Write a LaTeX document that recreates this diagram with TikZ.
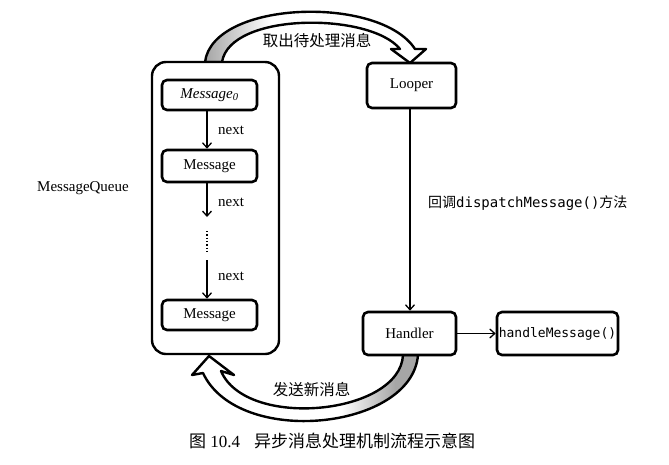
\documentclass[tikz,border=0pt]{standalone}
\usepackage{fontspec}
\setmainfont{Liberation Serif}
\newfontfamily\cjk{Noto Sans CJK SC}
\newfontfamily\mono{DejaVu Sans Mono}
\usetikzlibrary{arrows.meta}
\pgfdeclarehorizontalshading{topfade}{100bp}{color(0bp)=(gray!70); color(25bp)=(gray!70); color(40bp)=(white); color(100bp)=(white)}
\pgfdeclarehorizontalshading{botfade}{100bp}{color(0bp)=(white); color(58bp)=(white); color(70bp)=(gray!70); color(100bp)=(gray!70)}
\tikzset{
  msgbox/.style={draw, line width=2.6pt, rounded corners=5pt, fill=white, inner sep=0pt, font=\fontsize{15}{17}\selectfont},
  queuebox/.style={draw, line width=2.4pt, rounded corners=14pt, fill=white},
  arr/.style={line width=1.3pt, -{Straight Barb[length=5pt,width=9pt,line width=1.3pt]}},
  band/.style={draw, line width=2.4pt, line join=round},
  lbl/.style={font=\fontsize{15}{17}\selectfont, inner sep=0pt},
  clbl/.style={font=\cjk\fontsize{15.5}{17}\selectfont, inner sep=0pt}
}
\begin{document}
\begin{tikzpicture}[x=1pt,y=-1pt]
\useasboundingbox (0,0) rectangle (669,464);
\fill[white] (0,0) rectangle (669,464);

% hollow arrows
\shadedraw[band, shading=topfade]
  (205,62) .. controls (213,0) and (380,-5) .. (415,49)
  -- (426,49) -- (410,63) -- (391,49) -- (400,49)
  .. controls (370,12) and (230,12) .. (222,62) -- cycle;
\shadedraw[band, shading=botfade]
  (418,355) .. controls (412,430) and (238,448) .. (203,373)
  -- (192,375) -- (209,356) -- (234,375) -- (221,371)
  .. controls (246,430) and (400,415) .. (403,355) -- cycle;

% message queue
\node[queuebox, minimum width=127pt, minimum height=292pt] (mq) at (215.5,208) {};
\node[lbl, anchor=center] (mqlbl) at (83,188) {MessageQueue};

\node[msgbox, minimum width=95pt, minimum height=30pt] (m0) at (209.5,95) {\textit{Message}\textsubscript{\textit{0}}};
\node[msgbox, minimum width=95pt, minimum height=32pt] (m1) at (209.5,166) {Message};
\node[msgbox, minimum width=95pt, minimum height=30pt] (m2) at (209.5,315) {Message};

\coordinate (a2end) at (207,217);
\coordinate (dtop) at (207,231);
\coordinate (dbot) at (207,253);
\coordinate (a3start) at (207,260);

\draw[arr] ([xshift=-2.5pt]m0.south) -- ([xshift=-2.5pt]m1.north);
\draw[arr] ([xshift=-2.5pt]m1.south) -- (a2end);
\draw[line width=1.3pt, dotted] (dtop) -- (dbot);
\draw[arr] (a3start) -- ([xshift=-2.5pt]m2.north);

\node[lbl, anchor=west] (n1) at (218,130) {next};
\node[lbl, anchor=west] (n2) at (218,202) {next};
\node[lbl, anchor=west] (n3) at (218,276) {next};

% right side
\node[msgbox, minimum width=89pt, minimum height=45pt] (looper) at (411.5,85.5) {Looper};
\node[msgbox, minimum width=93pt, minimum height=43pt] (handler) at (409.5,333.5) {Handler};
\node[msgbox, minimum width=121pt, minimum height=43pt, font=\mono\fontsize{13}{15}\selectfont] (hm) at (557.5,333.5) {handleMessage()};

\draw[arr] (looper.south -| 410,0) -- (handler.north -| 410,0);
\draw[arr] (handler.east) -- (hm.west);

\node[lbl, anchor=west, font=\fontsize{14}{16}\selectfont] (disp) at (428,203) {{\cjk 回调}{\mono dispatchMessage()}{\cjk 方法}};

\node[clbl] (take) at (317,41) {取出待处理消息};
\node[clbl] (send) at (311.5,390) {发送新消息};

\node[inner sep=0pt, font=\fontsize{17}{19}\selectfont] (cap) at (332,441) {{\cjk 图} 10.4\hspace{14pt}{\cjk 异步消息处理机制流程示意图}};
\end{tikzpicture}
\end{document}
